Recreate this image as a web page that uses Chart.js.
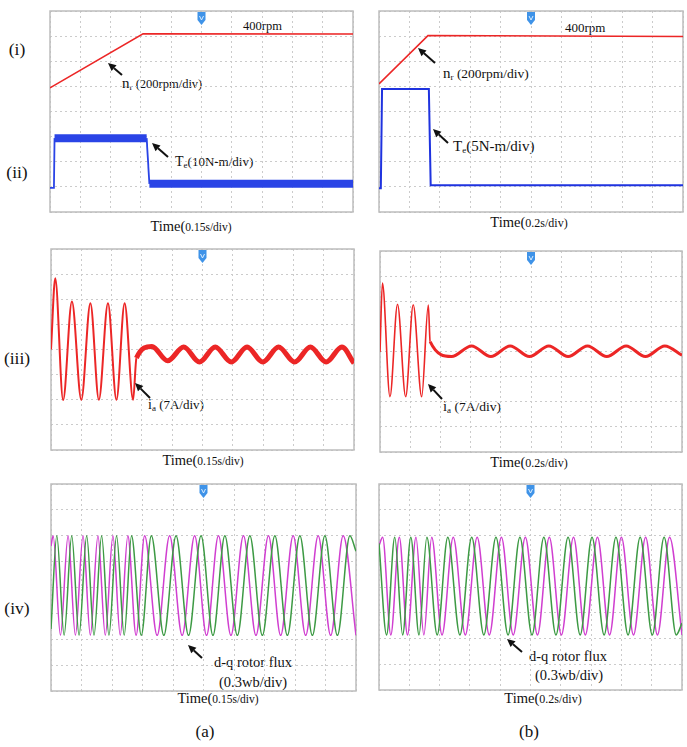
<!DOCTYPE html>
<html>
<head>
<meta charset="utf-8">
<script src="https://cdn.jsdelivr.net/npm/chart.js@4.4.0/dist/chart.umd.min.js"></script>
<style>
  body { margin: 0; width: 687px; height: 747px; position: relative; overflow: hidden; background: #fff;
         font-family: "Liberation Serif", "Times New Roman", serif; color: #111; }
  canvas { position: absolute; }
  .t { position: absolute; white-space: nowrap; line-height: 1; }
  .c { transform: translateX(-50%); }
  .sub { font-size: 9px; position: relative; top: 2px; }
  #arrows { position: absolute; left: 0; top: 0; pointer-events: none; }
</style>
</head>
<body>

<!-- row labels -->
<div class="t c" style="left:17px;top:41px;font-size:17.5px">(i)</div>
<div class="t c" style="left:17px;top:164px;font-size:17.5px">(ii)</div>
<div class="t c" style="left:17px;top:350px;font-size:17.5px">(iii)</div>
<div class="t c" style="left:17px;top:600px;font-size:17.5px">(iv)</div>

<!-- time base labels -->
<div class="t c" style="left:191px;top:219px;font-size:14.5px">Time(<span style="font-size:11.5px">0.15s/div)</span></div>
<div class="t c" style="left:529px;top:215px;font-size:14.5px">Time(<span style="font-size:12px">0.2s/div)</span></div>
<div class="t c" style="left:203px;top:453px;font-size:14.5px">Time(<span style="font-size:11.5px">0.15s/div)</span></div>
<div class="t c" style="left:529px;top:455px;font-size:14.5px">Time(<span style="font-size:12px">0.2s/div)</span></div>
<div class="t c" style="left:218px;top:691px;font-size:14.5px">Time(<span style="font-size:11.5px">0.15s/div)</span></div>
<div class="t c" style="left:543px;top:691px;font-size:14.5px">Time(<span style="font-size:12px">0.2s/div)</span></div>

<div class="t c" style="left:205px;top:723px;font-size:17px">(a)</div>
<div class="t c" style="left:529px;top:723px;font-size:17px">(b)</div>

<!-- trace annotations -->
<div class="t" style="left:243px;top:20px;font-size:12.5px">400rpm</div>
<div class="t" style="left:565px;top:21px;font-size:13px">400rpm</div>
<div class="t" style="left:122px;top:76px;font-size:15px">n<span class="sub">r</span><span style="font-size:12.5px"> (200rpm/div)</span></div>
<div class="t" style="left:443px;top:66px;font-size:15px">n<span class="sub">r</span><span style="font-size:13.5px"> (200rpm/div)</span></div>
<div class="t" style="left:175px;top:155px;font-size:14px">T<span class="sub">e</span><span style="font-size:13px">(10N-m/div)</span></div>
<div class="t" style="left:453px;top:139px;font-size:15px">T<span class="sub">e</span>(5N-m/div)</div>
<div class="t" style="left:148px;top:398px;font-size:14px">i<span class="sub">a</span><span style="font-size:13px"> (7A/div)</span></div>
<div class="t" style="left:443px;top:399px;font-size:14.5px">i<span class="sub">a</span><span style="font-size:13.5px"> (7A/div)</span></div>
<div class="t c" style="left:253px;top:655px;font-size:14.5px">d-q rotor flux</div>
<div class="t c" style="left:253px;top:675px;font-size:14.5px">(0.3wb/div)</div>
<div class="t c" style="left:568px;top:649px;font-size:14.5px">d-q rotor flux</div>
<div class="t c" style="left:569px;top:668px;font-size:14.5px">(0.3wb/div)</div>

<svg id="arrows" width="687" height="747"></svg>

<script>
// all traces: x in scope divisions (10 across), y in divisions (8 high)

// (a) speed and torque, 0.15 s/div
const speedA_t = [0, 3.07, 10];
const speedA_v = [4.94, 7.09, 7.08];
const torqueA_t = [0, 0.13, 0.15, 3.19, 3.28, 10];
const torqueA_v = [0.96, 0.96, 2.94, 2.94, 1.12, 1.12];

// (b) speed and torque, 0.2 s/div
const speedB_t = [0, 1.61, 10];
const speedB_v = [5.1, 7.02, 6.99];
const torqueB_t = [0, 0.06, 0.1, 1.64, 1.7, 10];
const torqueB_v = [0.95, 0.95, 4.9, 4.9, 1.06, 1.06];

// phase current, peaks and troughs
const currA_t = [0, 0.14, 0.4, 0.69, 1.0, 1.3, 1.58, 1.88, 2.16, 2.43, 2.71, 2.82, 3.33, 3.85, 4.38, 4.9, 5.42, 5.95, 6.47, 6.99, 7.51, 8.04, 8.56, 9.08, 9.6, 10];
const currA_v = [4.0, 6.84, 1.99, 5.91, 2.0, 5.84, 2.0, 5.84, 2.0, 5.84, 2.0, 3.66, 4.12, 3.55, 4.1, 3.5, 4.1, 3.5, 4.1, 3.5, 4.1, 3.5, 4.1, 3.5, 4.1, 3.45];
const currB_t = [0, 0.08, 0.33, 0.58, 0.85, 1.1, 1.38, 1.6, 1.66, 2.37, 3.03, 3.67, 4.31, 4.95, 5.59, 6.23, 6.87, 7.51, 8.15, 8.79, 9.43, 10];
const currB_v = [3.98, 6.72, 2.2, 5.88, 2.2, 5.86, 2.2, 5.85, 4.39, 3.8, 4.22, 3.8, 4.22, 3.8, 4.22, 3.8, 4.22, 3.8, 4.22, 3.8, 4.22, 3.85];

// d-q rotor flux, peaks and troughs
const fluxDA_t = [0, 0.07, 0.31, 0.56, 0.80, 1.05, 1.29, 1.54, 1.78, 2.03, 2.27, 2.52, 2.79, 3.07, 3.48, 3.89, 4.30, 4.71, 5.10, 5.49, 5.90, 6.31, 6.72, 7.13, 7.53, 7.94, 8.35, 8.76, 9.17, 9.58, 10];
const fluxDA_v = [5.6, 6.0, 2.15, 6.0, 2.15, 6.0, 2.15, 6.0, 2.15, 6.0, 2.15, 6.0, 2.15, 6.0, 2.15, 6.0, 2.15, 6.0, 2.15, 6.0, 2.15, 6.0, 2.15, 6.0, 2.15, 6.0, 2.15, 6.0, 2.15, 6.0, 2.15];
const fluxQA_t = [0, 0.19, 0.43, 0.68, 0.92, 1.17, 1.41, 1.66, 1.90, 2.15, 2.40, 2.64, 2.96, 3.29, 3.70, 4.10, 4.51, 4.92, 5.31, 5.70, 6.11, 6.52, 6.93, 7.34, 7.75, 8.16, 8.57, 8.98, 9.39, 9.80, 10];
const fluxQA_v = [2.4, 6.0, 2.15, 6.0, 2.15, 6.0, 2.15, 6.0, 2.15, 6.0, 2.15, 6.0, 2.15, 6.0, 2.15, 6.0, 2.15, 6.0, 2.15, 6.0, 2.15, 6.0, 2.15, 6.0, 2.15, 6.0, 2.15, 6.0, 2.15, 6.0, 5.4];
const fluxDB_t = [0, 0.12, 0.39, 0.67, 0.94, 1.22, 1.48, 1.74, 2.08, 2.45, 2.85, 3.24, 3.64, 4.04, 4.43, 4.83, 5.23, 5.62, 6.02, 6.42, 6.81, 7.21, 7.61, 8.0, 8.40, 8.80, 9.19, 9.59, 10];
const fluxDB_v = [5.6, 5.93, 2.14, 5.93, 2.14, 5.93, 2.14, 5.93, 2.14, 5.93, 2.14, 5.93, 2.14, 5.93, 2.14, 5.93, 2.14, 5.93, 2.14, 5.93, 2.14, 5.93, 2.14, 5.93, 2.14, 5.93, 2.14, 5.93, 2.14];
const fluxQB_t = [0, 0.25, 0.52, 0.78, 1.05, 1.32, 1.58, 1.92, 2.27, 2.67, 3.06, 3.46, 3.86, 4.26, 4.65, 5.05, 5.44, 5.84, 6.24, 6.64, 7.03, 7.43, 7.82, 8.22, 8.62, 9.02, 9.41, 9.81, 10];
const fluxQB_v = [5.7, 2.14, 5.93, 2.14, 5.93, 2.14, 5.93, 2.14, 5.93, 2.14, 5.93, 2.14, 5.93, 2.14, 5.93, 2.14, 5.93, 2.14, 5.93, 2.14, 5.93, 2.14, 5.93, 2.14, 5.93, 2.14, 5.93, 2.14, 2.6];

const RED = '#ec2626', BLUE = '#1f33df', MAGENTA = '#d03fd0', GREEN = '#3d9a44';
const PAD = 3;

// panel rectangles on the page: left, top, width, height
const layout = {
  a1: [50, 11, 303, 201], b1: [379, 11, 304, 201],
  a2: [51, 249, 303, 201], b2: [380, 251, 302, 201],
  a3: [51, 484, 305, 207], b3: [379, 484, 303, 206]
};

// frame and trigger marker of the scope screen
const scopeDecor = {
  id: 'scopeDecor',
  beforeDatasetsDraw(chart) {
    const { ctx, chartArea: a } = chart;
    ctx.save();
    ctx.strokeStyle = '#bdbdbd';
    ctx.lineWidth = 1.5;
    ctx.strokeRect(a.left, a.top, a.width, a.height);
    ctx.restore();
  },
  afterDatasetsDraw(chart) {
    const { ctx, chartArea: a, scales } = chart;
    const cx = scales.x.getPixelForValue(5);
    const top = a.top + 1;
    ctx.save();
    ctx.fillStyle = '#3f93e8';
    ctx.beginPath();
    ctx.moveTo(cx - 4, top);
    ctx.lineTo(cx + 4, top);
    ctx.lineTo(cx + 4, top + 8);
    ctx.lineTo(cx, top + 13);
    ctx.lineTo(cx - 4, top + 8);
    ctx.closePath();
    ctx.fill();
    ctx.strokeStyle = '#dbeeff';
    ctx.lineWidth = 1;
    ctx.beginPath();
    ctx.moveTo(cx - 2, top + 4);
    ctx.lineTo(cx, top + 8);
    ctx.lineTo(cx + 2, top + 4);
    ctx.stroke();
    ctx.restore();
  }
};

function trace(t, v, color, width, extra) {
  return Object.assign({
    data: t.map((x, i) => ({ x: x, y: v[i] })),
    borderColor: color,
    borderWidth: width,
    pointRadius: 0,
    tension: 0,
    fill: false
  }, extra || {});
}

function scope(id, datasets) {
  const r = layout[id];
  const c = document.createElement('canvas');
  c.width = r[2] + 2 * PAD;
  c.height = r[3] + 2 * PAD;
  c.style.left = (r[0] - PAD) + 'px';
  c.style.top = (r[1] - PAD) + 'px';
  c.style.width = c.width + 'px';
  c.style.height = c.height + 'px';
  document.body.insertBefore(c, document.getElementById('arrows'));
  const axis = (max) => ({
    type: 'linear', min: 0, max: max,
    ticks: { display: false, stepSize: 1 },
    grid: { color: '#cbcbcb', lineWidth: 1, drawTicks: false },
    border: { display: false, dash: [2, 3] }
  });
  return new Chart(c, {
    type: 'line',
    data: { datasets: datasets },
    options: {
      responsive: false,
      animation: false,
      events: [],
      layout: { padding: PAD },
      plugins: { legend: { display: false }, tooltip: { enabled: false } },
      scales: { x: axis(10), y: axis(8) }
    },
    plugins: [scopeDecor]
  });
}

const smooth = { cubicInterpolationMode: 'monotone' };
const band = (from, thin, thick, skip) => ({
  segment: { borderWidth: s => (s.p0DataIndex >= from && s.p0DataIndex !== skip) ? thick : thin }
});

scope('a1', [
  trace(speedA_t, speedA_v, RED, 1.5),
  trace(torqueA_t, torqueA_v, '#2a44e6', 1.5, band(2, 1.8, 8, 3))
]);
scope('b1', [
  trace(speedB_t, speedB_v, RED, 1.5),
  trace(torqueB_t, torqueB_v, BLUE, 2)
]);
scope('a2', [
  trace(currA_t, currA_v, RED, 2, Object.assign({}, smooth, band(11, 2, 5, -1)))
]);
scope('b2', [
  trace(currB_t, currB_v, RED, 1.6, Object.assign({}, smooth, band(8, 1.6, 3, -1)))
]);
scope('a3', [
  trace(fluxQA_t, fluxQA_v, GREEN, 1.5, smooth),
  trace(fluxDA_t, fluxDA_v, MAGENTA, 1.5, smooth)
]);
scope('b3', [
  trace(fluxQB_t, fluxQB_v, GREEN, 1.5, smooth),
  trace(fluxDB_t, fluxDB_v, MAGENTA, 1.5, smooth)
]);

// annotation arrows: tail x, tail y, head x, head y
const arrows = [
  [122, 75, 108, 63], [168, 157, 152, 143],
  [435, 63, 418, 48], [448, 143, 433, 129],
  [150, 398, 135, 383], [442, 399, 428, 384],
  [202, 658, 188, 645], [522, 652, 507, 639]
];
const svg = document.getElementById('arrows');
arrows.forEach(([x1, y1, x2, y2]) => {
  const dx = x2 - x1, dy = y2 - y1, len = Math.hypot(dx, dy);
  const ux = dx / len, uy = dy / len;
  const bx = x2 - ux * 8, by = y2 - uy * 8;
  const line = document.createElementNS('http://www.w3.org/2000/svg', 'line');
  line.setAttribute('x1', x1); line.setAttribute('y1', y1);
  line.setAttribute('x2', bx); line.setAttribute('y2', by);
  line.setAttribute('stroke', '#111'); line.setAttribute('stroke-width', '2');
  svg.appendChild(line);
  const head = document.createElementNS('http://www.w3.org/2000/svg', 'polygon');
  head.setAttribute('points', [x2, y2, bx - uy * 3.8, by + ux * 3.8, bx + uy * 3.8, by - ux * 3.8].join(' '));
  head.setAttribute('fill', '#111');
  svg.appendChild(head);
});
</script>
</body>
</html>
